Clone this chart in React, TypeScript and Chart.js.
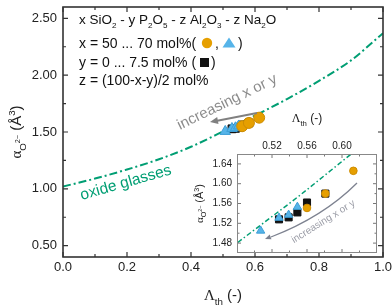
import React, { useEffect, useRef } from 'react';
import { Chart, registerables } from 'chart.js';
Chart.register(...registerables);

// ---------- data ----------
const curveX = [0, 0.1, 0.2, 0.3, 0.4, 0.5, 0.6, 0.7, 0.8, 0.9, 1.0];
const curveY = [1.02, 1.09, 1.17, 1.26, 1.37, 1.505, 1.645, 1.79, 1.95, 2.13, 2.37];
const insetCurveX = [0.46, 0.5, 0.55, 0.6, 0.65];
const insetCurveY = [1.453, 1.507, 1.574, 1.645, 1.716];

const circleX = [0.56, 0.581, 0.613];
const circleY = [1.551, 1.58, 1.626];
const triangleX = [0.507, 0.528, 0.539, 0.549];
const triangleY = [1.505, 1.531, 1.537, 1.553];
const squareX = [0.528, 0.539, 0.549, 0.56, 0.581];
const squareY = [1.528, 1.532, 1.542, 1.562, 1.58];

const mainXMajor = [0, 0.2, 0.4, 0.6, 0.8, 1.0];
const mainXLabels = ['0.0', '0.2', '0.4', '0.6', '0.8', '1.0'];
const mainXMinor = [0.1, 0.3, 0.5, 0.7, 0.9];
const mainYMajor = [0.5, 1.0, 1.5, 2.0, 2.5];
const mainYLabels = ['0.50', '1.00', '1.50', '2.00', '2.50'];
const mainYMinor = [0.75, 1.25, 1.75, 2.25];

const insetXMajor = [0.52, 0.56, 0.6];
const insetXLabels = ['0.52', '0.56', '0.60'];
const insetXMinor = [0.5, 0.54, 0.58, 0.62];
const insetYMajor = [1.48, 1.52, 1.56, 1.6, 1.64];
const insetYLabels = ['1.48', '1.52', '1.56', '1.60', '1.64'];
const insetYMinor = [1.5, 1.54, 1.58, 1.62];

const GREEN = '#009E73';
const ORANGE = '#E69F00';
const BLUE = '#56B4E9';
const FONT = '"Liberation Sans", Arial, sans-serif';
const SERIF = '"Liberation Serif", "Times New Roman", serif';

const pts = (xs: number[], ys: number[]) => xs.map((v, i) => ({ x: v, y: ys[i] }));

type Part = { t: string; s?: number; dy?: number; f?: string };
const SUB = (t: string): Part => ({ t, s: 0.6, dy: 0.28 });
const SUP = (t: string): Part => ({ t, s: 0.65, dy: -0.4 });

function drawRich(ctx: CanvasRenderingContext2D, parts: Part[], x: number, y: number, size: number, color: string, align: 'left' | 'center' | 'right' = 'left', family = FONT) {
  const widths = parts.map((p) => {
    ctx.font = `${size * (p.s || 1)}px ${p.f || family}`;
    return ctx.measureText(p.t).width;
  });
  const total = widths.reduce((a, b) => a + b, 0);
  let cx = align === 'left' ? x : align === 'center' ? x - total / 2 : x - total;
  ctx.fillStyle = color;
  ctx.textAlign = 'left';
  ctx.textBaseline = 'alphabetic';
  parts.forEach((p, i) => {
    ctx.font = `${size * (p.s || 1)}px ${p.f || family}`;
    ctx.fillText(p.t, cx, y + (p.dy || 0) * size);
    cx += widths[i];
  });
  return total;
}

function drawTicks(chart: any, xMajor: number[], xMinor: number[], yMajor: number[], yMinor: number[], maj: number, min: number) {
  const { ctx, chartArea: a, scales } = chart;
  const xs = scales.x, ys = scales.y;
  ctx.beginPath();
  const vx = (v: number, len: number) => {
    const p = xs.getPixelForValue(v);
    ctx.moveTo(p, a.bottom); ctx.lineTo(p, a.bottom - len);
    ctx.moveTo(p, a.top); ctx.lineTo(p, a.top + len);
  };
  const vy = (v: number, len: number) => {
    const p = ys.getPixelForValue(v);
    ctx.moveTo(a.left, p); ctx.lineTo(a.left + len, p);
    ctx.moveTo(a.right, p); ctx.lineTo(a.right - len, p);
  };
  xMajor.forEach((v) => vx(v, maj));
  xMinor.forEach((v) => vx(v, min));
  yMajor.forEach((v) => vy(v, maj));
  yMinor.forEach((v) => vy(v, min));
  ctx.stroke();
}

function arrowHead(ctx: CanvasRenderingContext2D, x: number, y: number, ang: number, len: number, w: number) {
  ctx.beginPath();
  ctx.moveTo(x, y);
  ctx.lineTo(x - len * Math.cos(ang) + w * Math.sin(ang), y - len * Math.sin(ang) - w * Math.cos(ang));
  ctx.lineTo(x - len * Math.cos(ang) - w * Math.sin(ang), y - len * Math.sin(ang) + w * Math.cos(ang));
  ctx.closePath();
  ctx.fill();
}

const mainDecor = {
  id: 'mainDecor',
  beforeDraw(chart: any) {
    const { ctx, width, height } = chart;
    ctx.save();
    ctx.fillStyle = '#fff';
    ctx.fillRect(0, 0, width, height);
    ctx.restore();
  },
  afterDraw(chart: any) {
    const { ctx, chartArea: a } = chart;
    ctx.save();
    ctx.strokeStyle = '#333';
    ctx.lineWidth = 1.2;
    drawTicks(chart, mainXMajor, mainXMinor, mainYMajor, mainYMinor, 5, 3);
    ctx.lineWidth = 1.6;
    ctx.strokeRect(a.left, a.top, a.right - a.left, a.bottom - a.top);

    // axis titles
    drawRich(ctx, [{ t: 'Λ', f: SERIF }, { t: 'th', s: 0.65, dy: 0.3 }, { t: ' (-)' }], (a.left + a.right) / 2, 300, 15, '#222', 'center');
    ctx.save();
    ctx.translate(21, (a.top + a.bottom) / 2);
    ctx.rotate(-Math.PI / 2);
    drawRich(ctx, [{ t: 'α', f: SERIF }, { t: 'O', s: 0.65, dy: 0.3 }, { t: '2−', s: 0.48, dy: -0.05 }, { t: ' (Å' }, SUP('3'), { t: ')' }], 0, 0, 15, '#222', 'center');
    ctx.restore();

    // legend text
    const LS = 14;
    drawRich(ctx, [{ t: 'x SiO' }, SUB('2'), { t: ' - y P' }, SUB('2'), { t: 'O' }, SUB('5'), { t: ' - z Al' }, SUB('2'), { t: 'O' }, SUB('3'), { t: ' - z Na' }, SUB('2'), { t: 'O' }], 79, 24, 13.5, '#111');
    drawRich(ctx, [{ t: 'x = 50 ... 70 mol%(' }], 79, 48, LS, '#111');
    ctx.fillStyle = ORANGE;
    ctx.beginPath(); ctx.arc(207, 43, 5.2, 0, Math.PI * 2); ctx.fill();
    drawRich(ctx, [{ t: ',' }], 215, 48, LS, '#111');
    ctx.fillStyle = BLUE;
    ctx.beginPath(); ctx.moveTo(229, 37.5); ctx.lineTo(235.5, 47.5); ctx.lineTo(222.5, 47.5); ctx.closePath(); ctx.fill();
    drawRich(ctx, [{ t: ')' }], 238, 48, LS, '#111');
    drawRich(ctx, [{ t: 'y = 0 ... 7.5 mol% (' }], 79, 67, LS, '#111');
    ctx.fillStyle = '#111';
    ctx.fillRect(200, 58, 9, 9);
    drawRich(ctx, [{ t: ')' }], 211, 67, LS, '#111');
    drawRich(ctx, [{ t: 'z = (100-x-y)/2 mol%' }], 79, 85, LS, '#111');

    // oxide glasses label
    ctx.save();
    ctx.translate(127, 187);
    ctx.rotate(-16 * Math.PI / 180);
    drawRich(ctx, [{ t: 'oxide glasses' }], 0, 0, 15.5, GREEN, 'center');
    ctx.restore();

    // increasing x or y (main)
    ctx.save();
    ctx.translate(229, 106);
    ctx.rotate(-26 * Math.PI / 180);
    drawRich(ctx, [{ t: 'increasing x or y' }], 0, 0, 15, '#8c8c8c', 'center');
    ctx.restore();
    ctx.strokeStyle = '#808080';
    ctx.fillStyle = '#808080';
    ctx.lineWidth = 2;
    ctx.beginPath();
    ctx.moveTo(257, 113);
    ctx.lineTo(216, 121);
    ctx.stroke();
    arrowHead(ctx, 210, 122, Math.atan2(122 - 113, 210 - 257), 8, 3.5);
    ctx.restore();
  },
};

const insetDecor = {
  id: 'insetDecor',
  beforeDatasetsDraw(chart: any) {
    const { ctx, chartArea: a } = chart;
    ctx.save();
    ctx.fillStyle = '#fff';
    ctx.fillRect(a.left, a.top, a.right - a.left, a.bottom - a.top);
    ctx.restore();
  },
  afterDraw(chart: any) {
    const { ctx, chartArea: a } = chart;
    ctx.save();
    ctx.strokeStyle = '#777';
    ctx.lineWidth = 1;
    drawTicks(chart, insetXMajor, insetXMinor, insetYMajor, insetYMinor, 4, 2.5);
    ctx.strokeStyle = '#888';
    ctx.strokeRect(a.left + 0.5, a.top + 0.5, a.right - a.left - 1, a.bottom - a.top - 1);

    drawRich(ctx, [{ t: 'Λ', f: SERIF }, { t: 'th', s: 0.65, dy: 0.3 }, { t: ' (-)' }], (a.left + a.right) / 2, 22, 12, '#222', 'center');
    ctx.save();
    ctx.translate(18, (a.top + a.bottom) / 2);
    ctx.rotate(-Math.PI / 2);
    drawRich(ctx, [{ t: 'α', f: SERIF }, { t: 'O', s: 0.65, dy: 0.3 }, { t: '2−', s: 0.48, dy: -0.05 }, { t: ' (Å' }, SUP('3'), { t: ')' }], 0, 0, 11, '#222', 'center');
    ctx.restore();

    ctx.save();
    ctx.translate(138, 121);
    ctx.rotate(-32 * Math.PI / 180);
    drawRich(ctx, [{ t: 'increasing x or y' }], 0, 3.5, 10, '#9a9ca6', 'center');
    ctx.restore();
    ctx.strokeStyle = '#7d8290';
    ctx.fillStyle = '#7d8290';
    ctx.lineWidth = 1.3;
    ctx.beginPath();
    ctx.moveTo(172, 83);
    ctx.quadraticCurveTo(138, 117, 86, 137);
    ctx.stroke();
    arrowHead(ctx, 80, 139, Math.atan2(139 - 117, 80 - 138), 6, 2.5);
    ctx.restore();
  },
};

function markerSets(big: boolean) {
  return [
    {
      label: 'circles', data: pts(circleX, circleY), pointStyle: 'circle',
      pointRadius: big ? 5.5 : 3.8, backgroundColor: ORANGE, borderColor: '#cf8d00', borderWidth: 1, showLine: false,
    },
    {
      label: 'triangles', data: pts(triangleX, triangleY), pointStyle: 'triangle',
      pointRadius: big ? 6 : 4.8, backgroundColor: BLUE, borderColor: '#3d9fd6', borderWidth: 1, showLine: false,
    },
    {
      label: 'squares', data: pts(squareX, squareY), pointStyle: 'rect',
      pointRadius: big ? 5.5 : 5, backgroundColor: '#111', borderColor: '#111', borderWidth: 1, showLine: false,
    },
  ];
}

function scaleOpts(min: number, max: number, major: number[], labels: string[], size: number, padding: number, fit: (s: any) => void, position: string) {
  return {
    type: 'linear', position, min, max,
    afterBuildTicks: (s: any) => { s.ticks = major.map((v) => ({ value: v })); },
    afterFit: (s: any) => {
      fit(s);
      s.paddingTop = 0; s.paddingBottom = 0; s.paddingLeft = 0; s.paddingRight = 0;
    },
    grid: { display: false, drawTicks: false, tickLength: 0 },
    border: { display: false },
    ticks: {
      autoSkip: false, maxRotation: 0, minRotation: 0, padding, color: '#222',
      font: { family: FONT, size },
      callback: (_v: any, i: number) => labels[i],
    },
  };
}

export default function App() {
  const mainRef = useRef<HTMLCanvasElement>(null);
  const insetRef = useRef<HTMLCanvasElement>(null);

  useEffect(() => {
    const main = new Chart(mainRef.current as HTMLCanvasElement, {
      type: 'scatter',
      data: {
        datasets: [
          ...markerSets(true),
          {
            label: 'oxide glasses', data: pts(curveX, curveY), showLine: true, pointRadius: 0,
            borderColor: GREEN, borderWidth: 2, borderDash: [8, 3, 2, 3], cubicInterpolationMode: 'monotone',
          },
        ] as any,
      },
      options: {
        responsive: false, animation: false, devicePixelRatio: 1,
        layout: { padding: { top: 2, right: 9, left: 0, bottom: 0 } },
        plugins: { legend: { display: false }, tooltip: { enabled: false } },
        scales: {
          x: scaleOpts(0, 1, mainXMajor, mainXLabels, 13, 3, (s: any) => { s.height = 49; }, 'bottom'),
          y: scaleOpts(0.4, 2.6, mainYMajor, mainYLabels, 13, 6, (s: any) => { s.width = 63; }, 'left'),
        } as any,
      },
      plugins: [mainDecor],
    });
    const inset = new Chart(insetRef.current as HTMLCanvasElement, {
      type: 'scatter',
      data: {
        datasets: [
          ...markerSets(false),
          {
            label: 'oxide glasses', data: pts(insetCurveX, insetCurveY), showLine: true, pointRadius: 0,
            borderColor: GREEN, borderWidth: 1.5, borderDash: [5, 2.5, 1.5, 2.5], cubicInterpolationMode: 'monotone',
          },
        ] as any,
      },
      options: {
        responsive: false, animation: false, devicePixelRatio: 1,
        layout: { padding: { top: 0, right: 15, left: 0, bottom: 7 } },
        plugins: { legend: { display: false }, tooltip: { enabled: false } },
        scales: {
          x: scaleOpts(0.48, 0.64, insetXMajor, insetXLabels, 10, 2, (s: any) => { s.height = 54; }, 'top'),
          y: scaleOpts(1.46, 1.66, insetYMajor, insetYLabels, 10, 5, (s: any) => { s.width = 52; }, 'left'),
        } as any,
      },
      plugins: [insetDecor],
    });
    return () => { main.destroy(); inset.destroy(); };
  }, []);

  return (
    <div style={{ position: 'fixed', left: 0, top: 0, width: 392, height: 306, background: '#fff' }}>
      <canvas ref={mainRef} width={392} height={306} style={{ position: 'absolute', left: 0, top: 0 }} />
      <canvas ref={insetRef} width={207} height={160} style={{ position: 'absolute', left: 185, top: 100 }} />
    </div>
  );
}
